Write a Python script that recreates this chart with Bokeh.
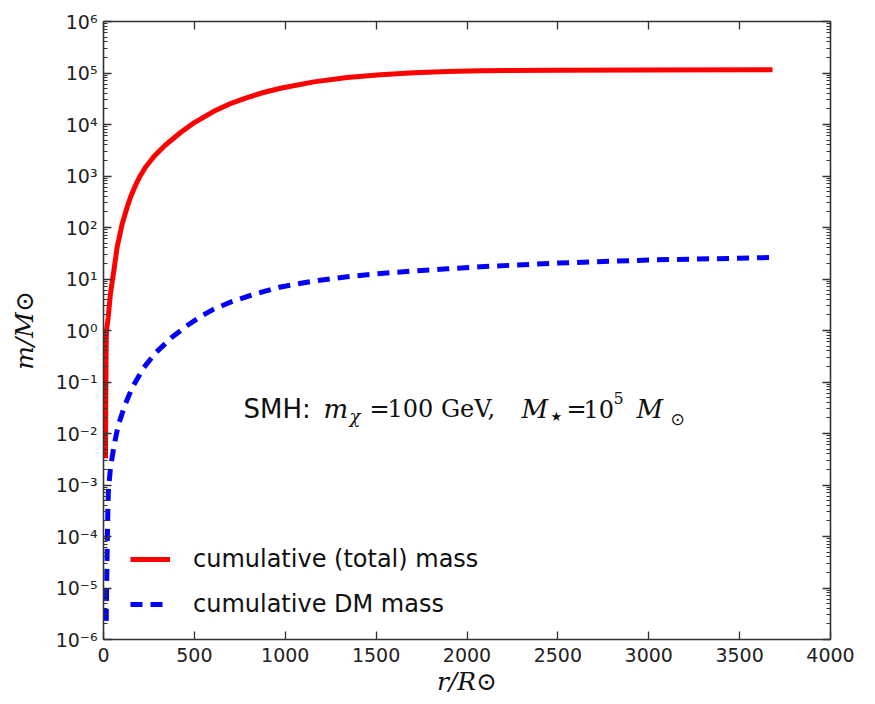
import math
from bokeh.plotting import figure
from bokeh.models import (Range1d, FixedTicker, LinearAxis, LogAxis,
                          CustomJSTickFormatter, Label)
from bokeh.embed import file_html
from bokeh.resources import INLINE

# ---------------- data ----------------
r_total = [11, 12, 13, 14, 15, 16.5, 26, 38, 57, 75, 103, 130, 150, 176, 200,
           231, 280, 341, 424, 500, 607, 700, 790, 880, 974, 1157, 1341, 1524,
           1707, 1891, 2074, 2500, 3000, 3681]
m_total = [3.3e-3, 0.02, 0.08, 0.25, 0.55, 1.0, 1.81, 5.16, 14.6, 41.4, 118,
           248, 400, 655, 977, 1480, 2440, 4000, 7000, 10900, 18000, 25600,
           33400, 41800, 50500, 67200, 81800, 92300, 100900, 107000, 110900,
           112800, 114300, 115300]

r_dm = [15, 17, 19, 21, 24, 27, 38, 57, 81, 117, 158, 222, 286, 378, 469,
        543, 607, 700, 790, 880, 974, 1157, 1341, 1524, 1707, 1891, 2074,
        2500, 3000, 3681]
m_dm = [2.3e-6, 8.9e-6, 2.7e-5, 8.3e-5, 3.2e-4, 7.8e-4, 2.09e-3, 5.6e-3,
        0.0143, 0.035, 0.078, 0.191, 0.366, 0.748, 1.31, 1.95, 2.6, 3.57,
        4.57, 5.7, 7.0, 9.15, 11.1, 12.8, 14.3, 15.8, 17.3, 20.4, 23.4, 26.1]

x_ticks = [0, 500, 1000, 1500, 2000, 2500, 3000, 3500, 4000]
y_exponents = list(range(-6, 7))
y_ticks = [10.0 ** e for e in y_exponents]
y_minor = [k * 10.0 ** e for e in range(-6, 6) for k in range(2, 10)]

label_total = "cumulative (total) mass"
label_dm = "cumulative DM mass"
x_label = "r/R\u2299"
y_label = "m/M\u2299"

# ---------------- figure ----------------
p = figure(width=875, height=704,
           x_range=Range1d(0, 4000), y_range=Range1d(1e-6, 1e6),
           y_axis_type="log", output_backend="svg", toolbar_location=None,
           min_border_left=103, min_border_right=45,
           min_border_top=21, min_border_bottom=65)
p.grid.visible = False
p.outline_line_color = None
p.background_fill_color = "white"
p.border_fill_color = "white"

bottom = p.below[0]
left = p.left[0]

p.line(r_total, m_total, line_color="#ff0000", line_width=5,
       line_join="round", legend_label=label_total)
p.line(r_dm, m_dm, line_color="#0000ff", line_width=5, line_dash="12 8",
       legend_label=label_dm)

xt = FixedTicker(ticks=x_ticks, minor_ticks=[])
yt = FixedTicker(ticks=y_ticks, minor_ticks=y_minor)

sup_code = """
const sup = {'0':'\u2070','1':'\u00b9','2':'\u00b2','3':'\u00b3','4':'\u2074',
             '5':'\u2075','6':'\u2076','7':'\u2077','8':'\u2078','9':'\u2079','-':'\u207b'};
const e = Math.round(Math.log10(tick));
return '10' + String(e).split('').map(c => sup[c]).join('');
"""

bottom.ticker = xt
left.ticker = yt
left.formatter = CustomJSTickFormatter(code=sup_code)

top = LinearAxis(ticker=xt, formatter=CustomJSTickFormatter(code="return ''"))
right = LogAxis(ticker=yt, formatter=CustomJSTickFormatter(code="return ''"))
p.add_layout(top, "above")
p.add_layout(right, "right")

for ax in [bottom, left, top, right]:
    ax.axis_line_color = "#333333"
    ax.axis_line_width = 1.6
    ax.major_tick_line_color = "#333333"
    ax.minor_tick_line_color = "#333333"
    ax.major_tick_line_width = 1.3
    ax.minor_tick_line_width = 1.1
    ax.major_tick_in = 8
    ax.major_tick_out = 0
    ax.minor_tick_in = 4
    ax.minor_tick_out = 0
    ax.major_label_text_font = "DejaVu Sans"
    ax.major_label_text_font_size = "19px"
    ax.major_label_text_color = "#222222"
for ax in [top, right]:
    ax.major_label_text_font_size = "0px"
    ax.major_label_standoff = 0
bottom.major_label_standoff = 8
left.major_label_standoff = 6

# axis labels
bottom.axis_label = x_label
left.axis_label = y_label
for ax, st in [(bottom, 2), (left, 14)]:
    ax.axis_label_text_font = "DejaVu Serif"
    ax.axis_label_text_font_style = "italic"
    ax.axis_label_text_font_size = "25px"
    ax.axis_label_text_color = "#111111"
    ax.axis_label_standoff = st

# legend
lg = p.legend[0]
lg.location = (27, 21)
lg.padding = 0
lg.margin = 0
lg.spacing = 17
lg.glyph_width = 40
lg.glyph_height = 24
lg.label_height = 24
lg.label_standoff = 23
lg.label_text_font = "DejaVu Sans"
lg.label_text_font_size = "24px"
lg.label_text_color = "#111111"
lg.border_line_color = None
lg.background_fill_alpha = 0

# ---------------- annotation placed in canvas pixels ----------------
FX0, FY0 = 103, 639  # frame left / bottom on the canvas


def put(text, X, Y, size, font="DejaVu Serif", style="normal",
        align="left", baseline="alphabetic", angle=0.0):
    p.add_layout(Label(x=X - FX0, y=FY0 - Y, x_units="screen",
                       y_units="screen", text=text, text_font=font,
                       text_font_size=f"{size}px", text_font_style=style,
                       text_align=align, text_baseline=baseline,
                       angle=angle, text_color="#111111"))


# SMH: m_chi = 100 GeV, M_star = 10^5 M_sun
put("SMH:", 243, 408, 26, font="DejaVu Sans")
put("m", 323, 408, 26, style="italic")
put("\u03c7", 349, 416, 18, style="italic")
put("=", 369, 408, 24)
put("100 GeV,", 387, 408, 24)
put("M", 521, 408, 26, style="italic")
put("\u2605", 550, 416, 13, font="DejaVu Sans", baseline="middle")
put("=", 566, 408, 24)
put("10", 583, 408, 24)
put("5", 613, 397, 16)
put("M", 636, 408, 26, style="italic")
put("\u2299", 670, 418, 17, font="DejaVu Sans", baseline="middle")

open("out.html", "w").write(file_html(p, INLINE))
